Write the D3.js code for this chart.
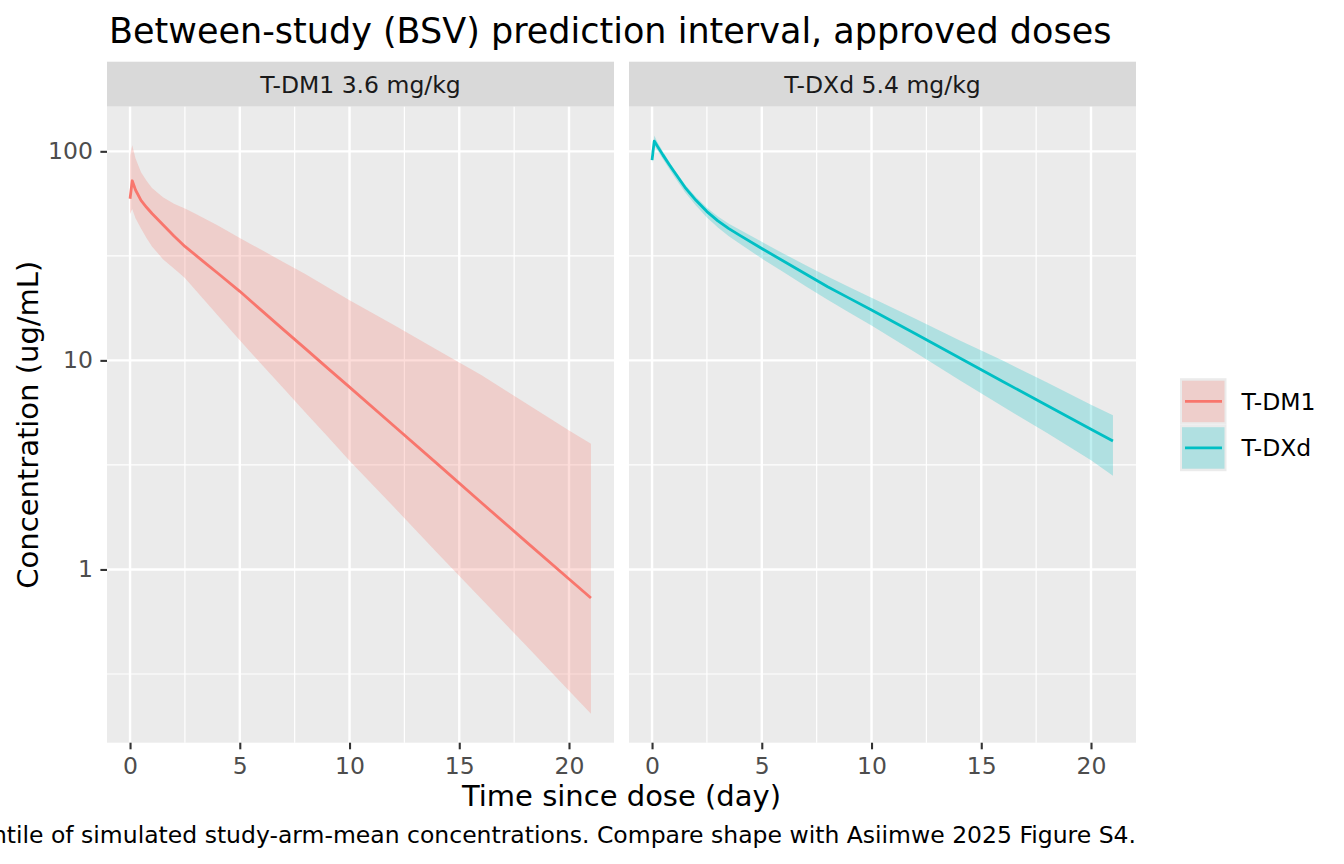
<!DOCTYPE html>
<html>
<head>
<meta charset="utf-8">
<script src="https://cdn.jsdelivr.net/npm/d3@7"></script>
<style>
  body { margin: 0; background: #fff; }
  text { font-family: "DejaVu Sans", sans-serif; }
</style>
</head>
<body>
<svg id="chart" width="1344" height="864"></svg>
<script>
// ---- data ----
var times = [0, 0.1, 0.25, 0.5, 0.75, 1, 1.5, 2, 2.5, 3, 3.5, 4, 5, 6, 7, 8, 9, 10, 12, 14, 16, 18, 20, 21];

var tdm1Median = [59.3, 72.3, 65.3, 58.2, 54.0, 50.4, 44.5, 39.4, 35.1, 31.8, 28.8, 26.1, 21.4, 17.3, 14.0, 11.35, 9.18, 7.45, 4.88, 3.20, 2.09, 1.37, 0.90, 0.73];
var tdm1Lower  = [50.1, 53.0, 47.9, 42.7, 38.5, 35.1, 30.5, 27.5, 24.8, 21.6, 18.8, 16.4, 12.5, 9.55, 7.33, 5.62, 4.32, 3.31, 2.00, 1.20, 0.724, 0.437, 0.263, 0.204];
var tdm1Upper  = [95.5, 107, 92.3, 79.4, 72.4, 66.8, 60.3, 56.2, 53.3, 50.1, 47.1, 44.2, 38.5, 33.7, 29.5, 25.8, 22.4, 19.4, 14.8, 11.2, 8.51, 6.27, 4.62, 3.99];

var tdxdMedian = [90.8, 112, 105.6, 95.9, 87.5, 80.0, 67.3, 58.3, 51.5, 46.5, 42.7, 39.6, 34.3, 29.8, 25.9, 22.5, 19.8, 17.4, 13.4, 10.3, 7.91, 6.08, 4.68, 4.12];
var tdxdLower  = [87.1, 106.4, 100.8, 91.6, 83.4, 76.0, 63.7, 55.0, 48.3, 43.2, 39.3, 36.1, 30.7, 26.4, 22.6, 19.5, 16.9, 14.7, 10.9, 8.05, 6.00, 4.49, 3.33, 2.81];
var tdxdUpper  = [95.1, 118.9, 110.5, 99.5, 90.4, 82.4, 69.3, 60.4, 53.7, 48.8, 45.1, 42.2, 36.9, 32.4, 28.5, 25.2, 22.4, 19.95, 15.8, 12.5, 9.95, 7.83, 6.14, 5.46];

var drugs = ["T-DM1", "T-DXd"];
var panelTitles = ["T-DM1 3.6 mg/kg", "T-DXd 5.4 mg/kg"];
var drugColors = ["#F8766D", "#00BFC4"];

var xTicks = [0, 5, 10, 15, 20];
var xMinor = [2.5, 7.5, 12.5, 17.5];
var yTicks = [1, 10, 100];

var titleText = "Between-study (BSV) prediction interval, approved doses";
var xTitle = "Time since dose (day)";
var yTitle = "Concentration (ug/mL)";
var captionText = "Shaded band: 5th\u201395th percentile of simulated study-arm-mean concentrations. Compare shape with Asiimwe 2025 Figure S4.";

// ---- layout ----
var panelW = 507, panelH = 636;
var panelTop = 106.7, stripH = 45;
var panelLefts = [107, 629];
var small = 23.5;

var series = [
    { median: tdm1Median, lower: tdm1Lower, upper: tdm1Upper },
    { median: tdxdMedian, lower: tdxdLower, upper: tdxdUpper }
];
series.forEach(function (s) {
    s.rows = times.map(function (t, i) {
        return { t: t, med: s.median[i], lo: s.lower[i], hi: s.upper[i] };
    });
});

// ggplot-style 5% expansion (log scale for y)
var allVals = tdm1Lower.concat(tdm1Upper, tdxdLower, tdxdUpper, tdm1Median, tdxdMedian);
var lmin = Math.log10(d3.min(allVals)), lmax = Math.log10(d3.max(allVals));
var pad = (lmax - lmin) * 0.05;
var tmin = d3.min(times), tmax = d3.max(times);
var tpad = (tmax - tmin) * 0.05;

var x = d3.scaleLinear().domain([tmin - tpad, tmax + tpad]).range([0, panelW]);
var y = d3.scaleLog().domain([Math.pow(10, lmin - pad), Math.pow(10, lmax + pad)]).range([panelH, 0]);

// minor breaks half way between decades
var yMinor = [];
for (var k = -2; k <= 3; k++) {
    var v = Math.pow(10, k + 0.5);
    if (v > y.domain()[0] && v < y.domain()[1]) yMinor.push(v);
}

var svg = d3.select("#chart");

// title
svg.append("text")
    .attr("x", 109).attr("y", 42.5)
    .style("font-size", "35px").style("fill", "#000")
    .text(titleText);

var area = d3.area()
    .x(function (d) { return x(d.t); })
    .y0(function (d) { return y(d.lo); })
    .y1(function (d) { return y(d.hi); });

var line = d3.line()
    .x(function (d) { return x(d.t); })
    .y(function (d) { return y(d.med); });

panelLefts.forEach(function (left, p) {
    // strip
    var strip = svg.append("g").attr("transform", "translate(" + left + "," + (panelTop - stripH) + ")");
    strip.append("rect").attr("width", panelW).attr("height", stripH).attr("fill", "#D9D9D9");
    strip.append("text")
        .attr("x", panelW / 2).attr("y", stripH / 2 + small * 0.36)
        .attr("text-anchor", "middle")
        .style("font-size", small + "px").style("fill", "#1A1A1A")
        .text(panelTitles[p]);

    var g = svg.append("g").attr("transform", "translate(" + left + "," + panelTop + ")");
    g.append("rect").attr("width", panelW).attr("height", panelH).attr("fill", "#EBEBEB");

    // minor grid
    g.selectAll(".xminor").data(xMinor).enter().append("line")
        .attr("x1", x).attr("x2", x).attr("y1", 0).attr("y2", panelH)
        .attr("stroke", "#fff").attr("stroke-width", 1.2);
    g.selectAll(".yminor").data(yMinor).enter().append("line")
        .attr("y1", y).attr("y2", y).attr("x1", 0).attr("x2", panelW)
        .attr("stroke", "#fff").attr("stroke-width", 1.2);
    // major grid
    g.selectAll(".xmajor").data(xTicks).enter().append("line")
        .attr("x1", x).attr("x2", x).attr("y1", 0).attr("y2", panelH)
        .attr("stroke", "#fff").attr("stroke-width", 2.4);
    g.selectAll(".ymajor").data(yTicks).enter().append("line")
        .attr("y1", y).attr("y2", y).attr("x1", 0).attr("x2", panelW)
        .attr("stroke", "#fff").attr("stroke-width", 2.4);

    var s = series[p];
    g.append("path")
        .attr("d", area(s.rows))
        .attr("fill", drugColors[p]).attr("fill-opacity", 0.25);
    g.append("path")
        .attr("d", line(s.rows))
        .attr("fill", "none").attr("stroke", drugColors[p]).attr("stroke-width", 2.8)
        .attr("stroke-linejoin", "round");

    // x axis
    var xa = g.append("g").attr("transform", "translate(0," + panelH + ")")
        .call(d3.axisBottom(x).tickValues(xTicks).tickSize(6.6).tickPadding(8));
    xa.select(".domain").remove();
    xa.selectAll("line").attr("stroke", "#333").attr("stroke-width", 2.1);
    xa.selectAll("text").style("font-size", small + "px").style("fill", "#4D4D4D")
        .style("font-family", "DejaVu Sans");

    if (p === 0) {
        var ya = g.append("g")
            .call(d3.axisLeft(y).tickValues(yTicks).tickFormat(d3.format("~g")).tickSize(6.6).tickPadding(7.5));
        ya.select(".domain").remove();
        ya.selectAll("line").attr("stroke", "#333").attr("stroke-width", 2.1);
        ya.selectAll("text").style("font-size", small + "px").style("fill", "#4D4D4D")
            .style("font-family", "DejaVu Sans");
    }
});

// axis titles
svg.append("text")
    .attr("x", (panelLefts[0] + panelLefts[1] + panelW) / 2).attr("y", 806)
    .attr("text-anchor", "middle")
    .style("font-size", "29px").style("fill", "#000")
    .text(xTitle);

svg.append("text")
    .attr("transform", "translate(38," + (panelTop + panelH / 2) + ") rotate(-90)")
    .attr("text-anchor", "middle")
    .style("font-size", "29px").style("fill", "#000")
    .text(yTitle);

// caption (right aligned to the panels, runs off the left edge like the original)
svg.append("text")
    .attr("x", panelLefts[1] + panelW).attr("y", 843)
    .attr("text-anchor", "end")
    .style("font-size", small + "px").style("fill", "#000")
    .text(captionText);

// legend
var keySize = 46.5;
var legend = svg.append("g").attr("transform", "translate(1180," + (panelTop + panelH / 2 - keySize) + ")");
drugs.forEach(function (name, i) {
    var kg = legend.append("g").attr("transform", "translate(0," + (i * keySize) + ")");
    kg.append("rect").attr("width", keySize).attr("height", keySize).attr("fill", "#EBEBEB");
    kg.append("rect").attr("x", 2).attr("y", 2.5).attr("width", keySize - 4).attr("height", keySize - 5)
        .attr("fill", drugColors[i]).attr("fill-opacity", 0.25);
    kg.append("line")
        .attr("x1", 5).attr("x2", keySize - 4.5)
        .attr("y1", keySize / 2).attr("y2", keySize / 2)
        .attr("stroke", drugColors[i]).attr("stroke-width", 2.8);
    kg.append("text")
        .attr("x", keySize + 15).attr("y", keySize / 2 + small * 0.36)
        .style("font-size", small + "px").style("fill", "#000")
        .text(name);
});
</script>
</body>
</html>
